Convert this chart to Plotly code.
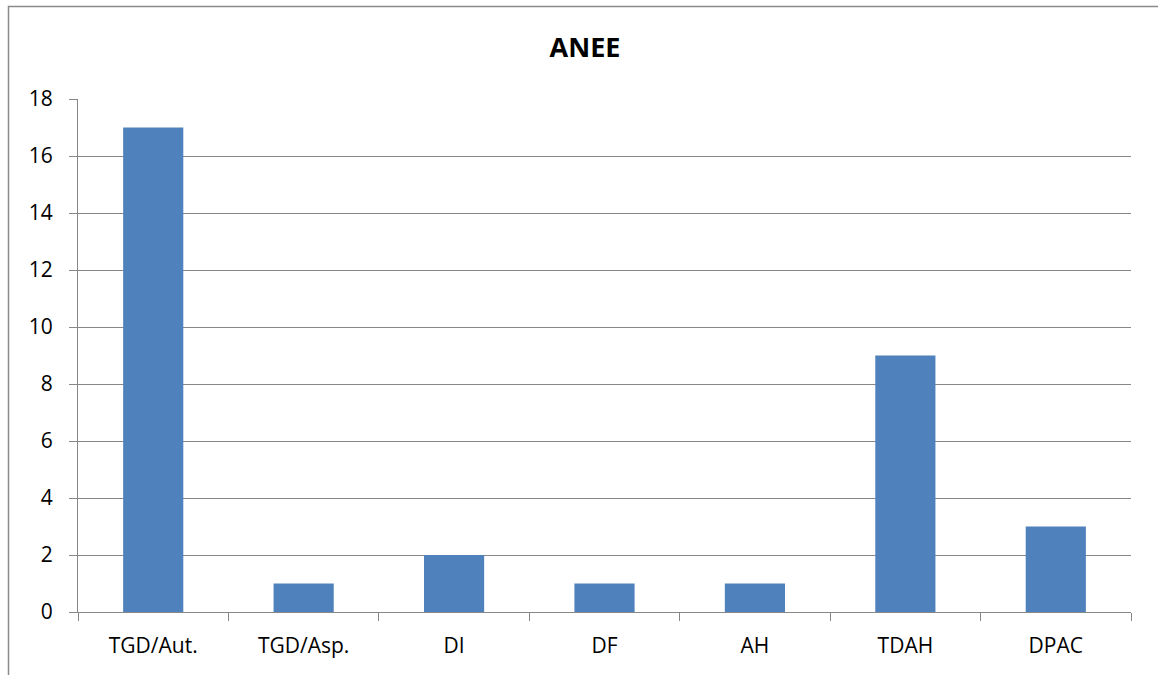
import plotly.graph_objects as go

categories = ["TGD/Aut.", "TGD/Asp.", "DI", "DF", "AH", "TDAH", "DPAC"]
values = [17, 1, 2, 1, 1, 9, 3]
y_ticks = [0, 2, 4, 6, 8, 10, 12, 14, 16, 18]
title_text = "ANEE"

W, H = 1158, 675
ml, mr, mt, mb = 78, 27, 99, 63
pw, ph = W - ml - mr, H - mt - mb

fig = go.Figure(go.Bar(x=categories, y=values, marker=dict(color="#4F81BD", line=dict(width=0))))

grid = "#878787"
fig.update_layout(
    width=W, height=H,
    margin=dict(l=ml, r=mr, t=mt, b=mb, pad=0),
    paper_bgcolor="white", plot_bgcolor="white",
    bargap=0.6,
    showlegend=False,
    font=dict(family="Open Sans, sans-serif", size=21, color="black"),
    title=dict(text="<b>" + title_text + "</b>", x=585 / W, xanchor="center",
               y=1 - 48 / H, yanchor="middle", font=dict(size=27, family="Open Sans, sans-serif")),
    xaxis=dict(showline=True, linecolor=grid, linewidth=1, ticks="outside", ticklen=8,
               tickcolor=grid, tickson="boundaries", showgrid=False, ticklabelstandoff=15),
    yaxis=dict(range=[0, 18], tickvals=y_ticks, showgrid=True, gridcolor=grid, gridwidth=1,
               showline=True, linecolor=grid, linewidth=1, ticks="outside", ticklen=8,
               tickcolor=grid, zeroline=False, ticklabelstandoff=12),
)

fig.add_shape(type="rect", xref="paper", yref="paper",
              x0=(8.5 - ml) / pw, x1=(W + 20 - ml) / pw,
              y0=-(H + 20 - mt - ph) / ph, y1=1 + (mt - 6.5) / ph,
              line=dict(color="#8a8a8a", width=1.5), layer="below")

fig.write_html("out.html", config={"displayModeBar": False},
               post_script="document.body.style.margin='0';document.body.style.padding='0';")
